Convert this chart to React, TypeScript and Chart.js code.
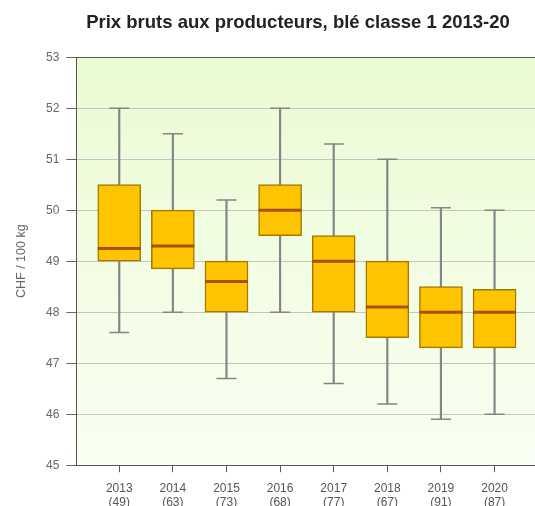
import React, { useEffect, useRef } from 'react';
import { Chart, registerables } from 'chart.js';

Chart.register(...registerables);

const years = ['2013', '2014', '2015', '2016', '2017', '2018', '2019', '2020'];
const counts = ['(49)', '(63)', '(73)', '(68)', '(77)', '(67)', '(91)', '(87)'];
const whiskerLow = [47.6, 48.0, 46.7, 48.0, 46.6, 46.2, 45.9, 46.0];
const q1 = [49.0, 48.85, 48.0, 49.5, 48.0, 47.5, 47.3, 47.3];
const medians = [49.25, 49.3, 48.6, 50.0, 49.0, 48.1, 48.0, 48.0];
const q3 = [50.5, 50.0, 49.0, 50.5, 49.5, 49.0, 48.5, 48.45];
const whiskerHigh = [52.0, 51.5, 50.2, 52.0, 51.3, 51.0, 50.05, 50.0];
const yMin = 45;
const yMax = 53;

const FONT = "'Liberation Sans', Arial, sans-serif";

const bgPlugin = {
  id: 'plotBg',
  beforeDraw(chart: any) {
    const { ctx, chartArea } = chart;
    if (!chartArea) return;
    const g = ctx.createLinearGradient(0, chartArea.top, 0, chartArea.bottom);
    g.addColorStop(0, '#e9fbd2');
    g.addColorStop(1, '#fafff3');
    ctx.save();
    ctx.fillStyle = g;
    ctx.fillRect(chartArea.left, chartArea.top, chartArea.right - chartArea.left, chartArea.bottom - chartArea.top);
    ctx.restore();
  },
};

export default function App() {
  const ref = useRef<HTMLCanvasElement | null>(null);

  useEffect(() => {
    document.body.style.margin = '0';
    document.body.style.overflow = 'hidden';
    const canvas = ref.current;
    if (!canvas) return;
    const xs = years.map((_, i) => i + 1);
    const chart = new Chart(canvas, {
      type: 'bar',
      data: {
        datasets: [
          {
            type: 'bar',
            label: 'whiskers',
            data: xs.map((x, i) => ({ x, y: [whiskerLow[i], whiskerHigh[i]] })) as any,
            backgroundColor: '#858585',
            borderWidth: 0,
            barThickness: 1.5,
            grouped: false,
            order: 3,
          } as any,
          {
            type: 'bar',
            label: 'box',
            data: xs.map((x, i) => ({ x, y: [q1[i], q3[i]] })) as any,
            backgroundColor: '#ffc400',
            borderColor: '#a57a00',
            borderWidth: 1.5,
            borderSkipped: false,
            barThickness: 43,
            grouped: false,
            order: 2,
          } as any,
          {
            type: 'scatter',
            label: 'caps',
            data: [
              ...xs.map((x, i) => ({ x, y: whiskerLow[i] })),
              ...xs.map((x, i) => ({ x, y: whiskerHigh[i] })),
            ],
            pointStyle: 'line',
            pointRadius: 10,
            pointHoverRadius: 10,
            borderColor: '#858585',
            borderWidth: 1.5,
            order: 1,
          } as any,
          {
            type: 'scatter',
            label: 'median',
            data: xs.map((x, i) => ({ x, y: medians[i] })),
            pointStyle: 'line',
            pointRadius: 21.5,
            pointHoverRadius: 21.5,
            borderColor: '#a94f00',
            borderWidth: 3,
            order: 0,
          } as any,
        ],
      },
      options: {
        animation: false,
        responsive: false,
        devicePixelRatio: 1,
        layout: { padding: { left: 10, right: 10, top: 0, bottom: 1 } },
        plugins: {
          legend: { display: false },
          tooltip: { enabled: false },
          title: {
            display: true,
            text: 'Prix bruts aux producteurs, blé classe 1 2013-20',
            color: '#222',
            font: { family: FONT, size: 18.5, weight: 'bold' },
            padding: { top: 12, bottom: 23 },
          },
        },
        scales: {
          x: {
            type: 'linear',
            offset: false,
            min: 0.2,
            max: 9.435,
            afterBuildTicks: (axis: any) => {
              axis.ticks = xs.map((v) => ({ value: v }));
            },
            ticks: {
              autoSkip: false,
              maxRotation: 0,
              color: '#555',
              font: { family: FONT, size: 12 },
              padding: 9,
              callback: (v: any) => {
                const i = Math.round(Number(v)) - 1;
                return [years[i], counts[i]];
              },
            },
            grid: { offset: false, drawOnChartArea: false, drawTicks: true, tickLength: 7, color: '#555' },
            border: { display: true, color: '#555', width: 1 },
          },
          y: {
            type: 'linear',
            min: yMin,
            max: yMax,
            ticks: {
              stepSize: 1,
              color: '#666',
              font: { family: FONT, size: 12 },
              padding: 7,
            },
            grid: {
              color: (ctx: any) => (ctx.tick && ctx.tick.value === yMax ? '#555' : '#c4c4c4'),
              tickColor: '#666',
              tickLength: 10,
              lineWidth: 1,
            },
            border: { display: true, color: '#555', width: 1 },
            title: {
              display: true,
              text: 'CHF / 100 kg',
              color: '#666',
              font: { family: FONT, size: 12.5 },
              padding: { top: 4, bottom: 10 },
            },
          },
        },
      } as any,
      plugins: [bgPlugin],
    });
    return () => chart.destroy();
  }, []);

  return (
    <div style={{ width: 596, height: 520, overflow: 'hidden' }}>
      <canvas ref={ref} width={596} height={520} style={{ display: 'block' }} />
    </div>
  );
}
